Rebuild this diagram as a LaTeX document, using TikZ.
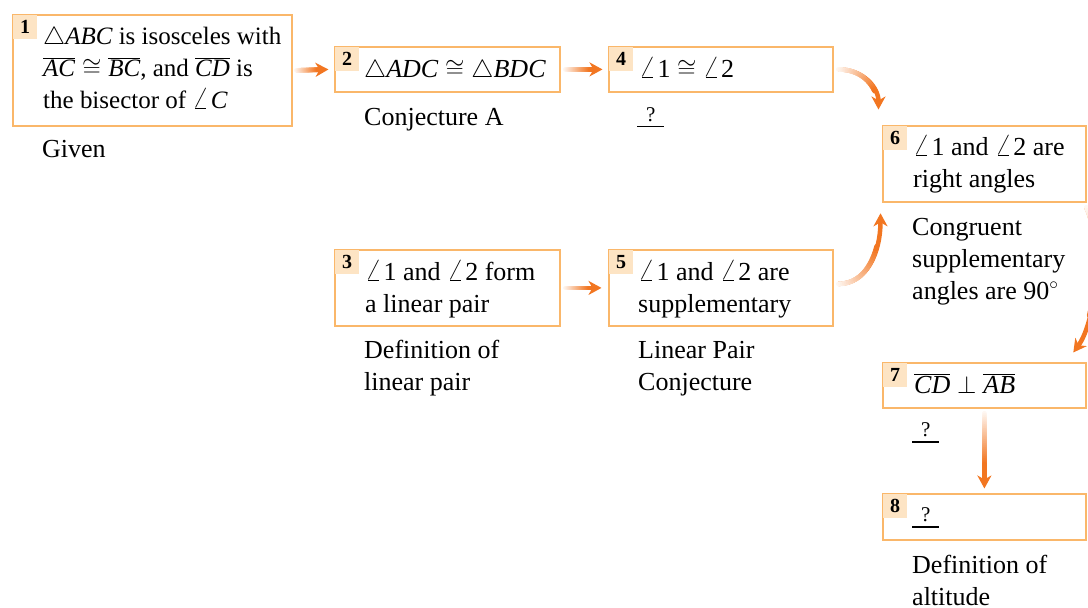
\documentclass[tikz,border=0pt]{standalone}
\usepackage{fontspec}
\usepackage{graphicx}
\setmainfont{Liberation Serif}
\usetikzlibrary{arrows.meta}
\definecolor{boxc}{RGB}{250,183,106}
\definecolor{tabc}{RGB}{253,228,196}
\definecolor{arr}{RGB}{242,118,33}
\newcommand\ml[1]{\parbox[t]{300pt}{\raggedright #1}}
\newcommand\ang{\scalebox{1.25}{$\angle$}\kern1.5pt}
\newcommand\qmark{\vtop{\hbox to 27pt{\hss\fontsize{21}{22}\selectfont ?\hss}\kern5pt\hrule height 1.2pt}}
\newcommand\gradarrow[1]{%
  \draw[line width=4.5pt, draw=arr, -{Stealth[length=13pt,width=14pt,inset=4pt]}] #1;
  \path #1 \foreach \k [evaluate=\k as \tt using \k/40] in {0,...,28}{ coordinate[pos=\tt] (gp\k) };
  \foreach \k [evaluate=\k as \kk using int(\k+1), evaluate=\k as \cc using int(6+94*\k/27)] in {0,...,27}{%
    \draw[line width=4.7pt, line cap=round, draw=arr!\cc!white] (gp\k) -- (gp\kk);}%
}
\begin{document}
\begin{tikzpicture}[x=1pt,y=-1pt,
  every node/.style={font=\fontsize{26}{32}\selectfont},
  box/.style={draw=boxc, fill=white, line width=2.8pt, inner sep=0pt, anchor=north west},
  tab/.style={fill=tabc, inner sep=0pt, minimum width=24pt, minimum height=24pt, anchor=north west, font=\fontsize{20}{22}\selectfont\bfseries},
  txt/.style={anchor=base west, inner sep=0pt}]
\useasboundingbox (0,0) rectangle (1088,608);

% boxes
\node[box, minimum width=279pt, minimum height=111pt] (b1) at (11.5,13.5) {};
\node[box, minimum width=225pt, minimum height=45pt] (b2) at (333.5,45.5) {};
\node[box, minimum width=224pt, minimum height=45pt] (b4) at (607.5,45.5) {};
\node[box, minimum width=225pt, minimum height=76pt] (b3) at (333.5,248.5) {};
\node[box, minimum width=224pt, minimum height=76pt] (b5) at (607.5,248.5) {};
\node[box, minimum width=203pt, minimum height=76pt] (b6) at (881.5,124.5) {};
\node[box, minimum width=203pt, minimum height=45pt] (b7) at (881.5,361.5) {};
\node[box, minimum width=203pt, minimum height=46pt] (b8) at (881.5,492.5) {};

% number tabs
\foreach \n in {1,2,3,4,5,6,7,8}{
  \node[tab] (t\n) at ([shift={(1.4pt,-1.4pt)}]b\n.north west) {\n};
}

% box texts
\node[txt, font=\fontsize{25}{32}\selectfont] (x1) at (43,44) {\ml{$\triangle\mathit{ABC}$ is isosceles with\\ $\overline{\mathit{AC}}\cong\overline{\mathit{BC}}$, and $\overline{\mathit{CD}}$ is\\ the bisector of \ang\textit{C}}};
\node[txt] (x2) at (364,77) {$\triangle\mathit{ADC}\cong\triangle\mathit{BDC}$};
\node[txt] (x4) at (639,77) {\ang1 $\cong$ \ang2};
\node[txt] (x3) at (365,280) {\ml{\ang1 and \ang2 form\\ a linear pair}};
\node[txt] (x5) at (638,280) {\ml{\ang1 and \ang2 are\\ supplementary}};
\node[txt] (x6) at (913,155) {\ml{\ang1 and \ang2 are\\ right angles}};
\node[txt] (x7) at (914,393) {$\overline{\mathit{CD}}\perp\overline{\mathit{AB}}$};
\node[txt] (x8) at (912,521) {\qmark};

% reasons
\node[txt] (r1) at (42,157) {Given};
\node[txt] (r2) at (364,125) {Conjecture A};
\node[txt] (r4) at (637,121) {\qmark};
\node[txt] (r3) at (364,358) {\ml{Definition of\\ linear pair}};
\node[txt] (r5) at (638,358) {\ml{Linear Pair\\ Conjecture}};
\node[txt] (r6) at (912,235) {\ml{Congruent\\ supplementary\\ angles are 90$^\circ$}};
\node[txt] (r7) at (912,436) {\qmark};
\node[txt] (r8) at (912,573) {\ml{Definition of\\ altitude}};

% arrows
\gradarrow{([xshift=3pt]b1.east) -- ([xshift=-5pt]b2.west)}
\gradarrow{([xshift=4pt]b2.east) -- ([xshift=-5pt]b4.west)}
\gradarrow{([xshift=4pt]b3.east) -- ([xshift=-6pt]b5.west)}
\gradarrow{([xshift=4pt]b4.east) .. controls +(25,0) and +(0,-22) .. ([xshift=-3pt,yshift=15pt]b6.north west)}
\gradarrow{([xshift=4pt,yshift=4pt]b5.east) .. controls +(28,0) and +(0,40) .. ([xshift=-1pt,yshift=-10pt]b6.south west)}
\gradarrow{([xshift=-1pt,yshift=-4pt]b6.south east) .. controls +(18,40) and +(22,-30) .. ([xshift=-14pt,yshift=9pt]b7.north east)}
\gradarrow{([yshift=-4pt]b7.south) -- ([yshift=4pt]b8.north)}
\end{tikzpicture}
\end{document}
